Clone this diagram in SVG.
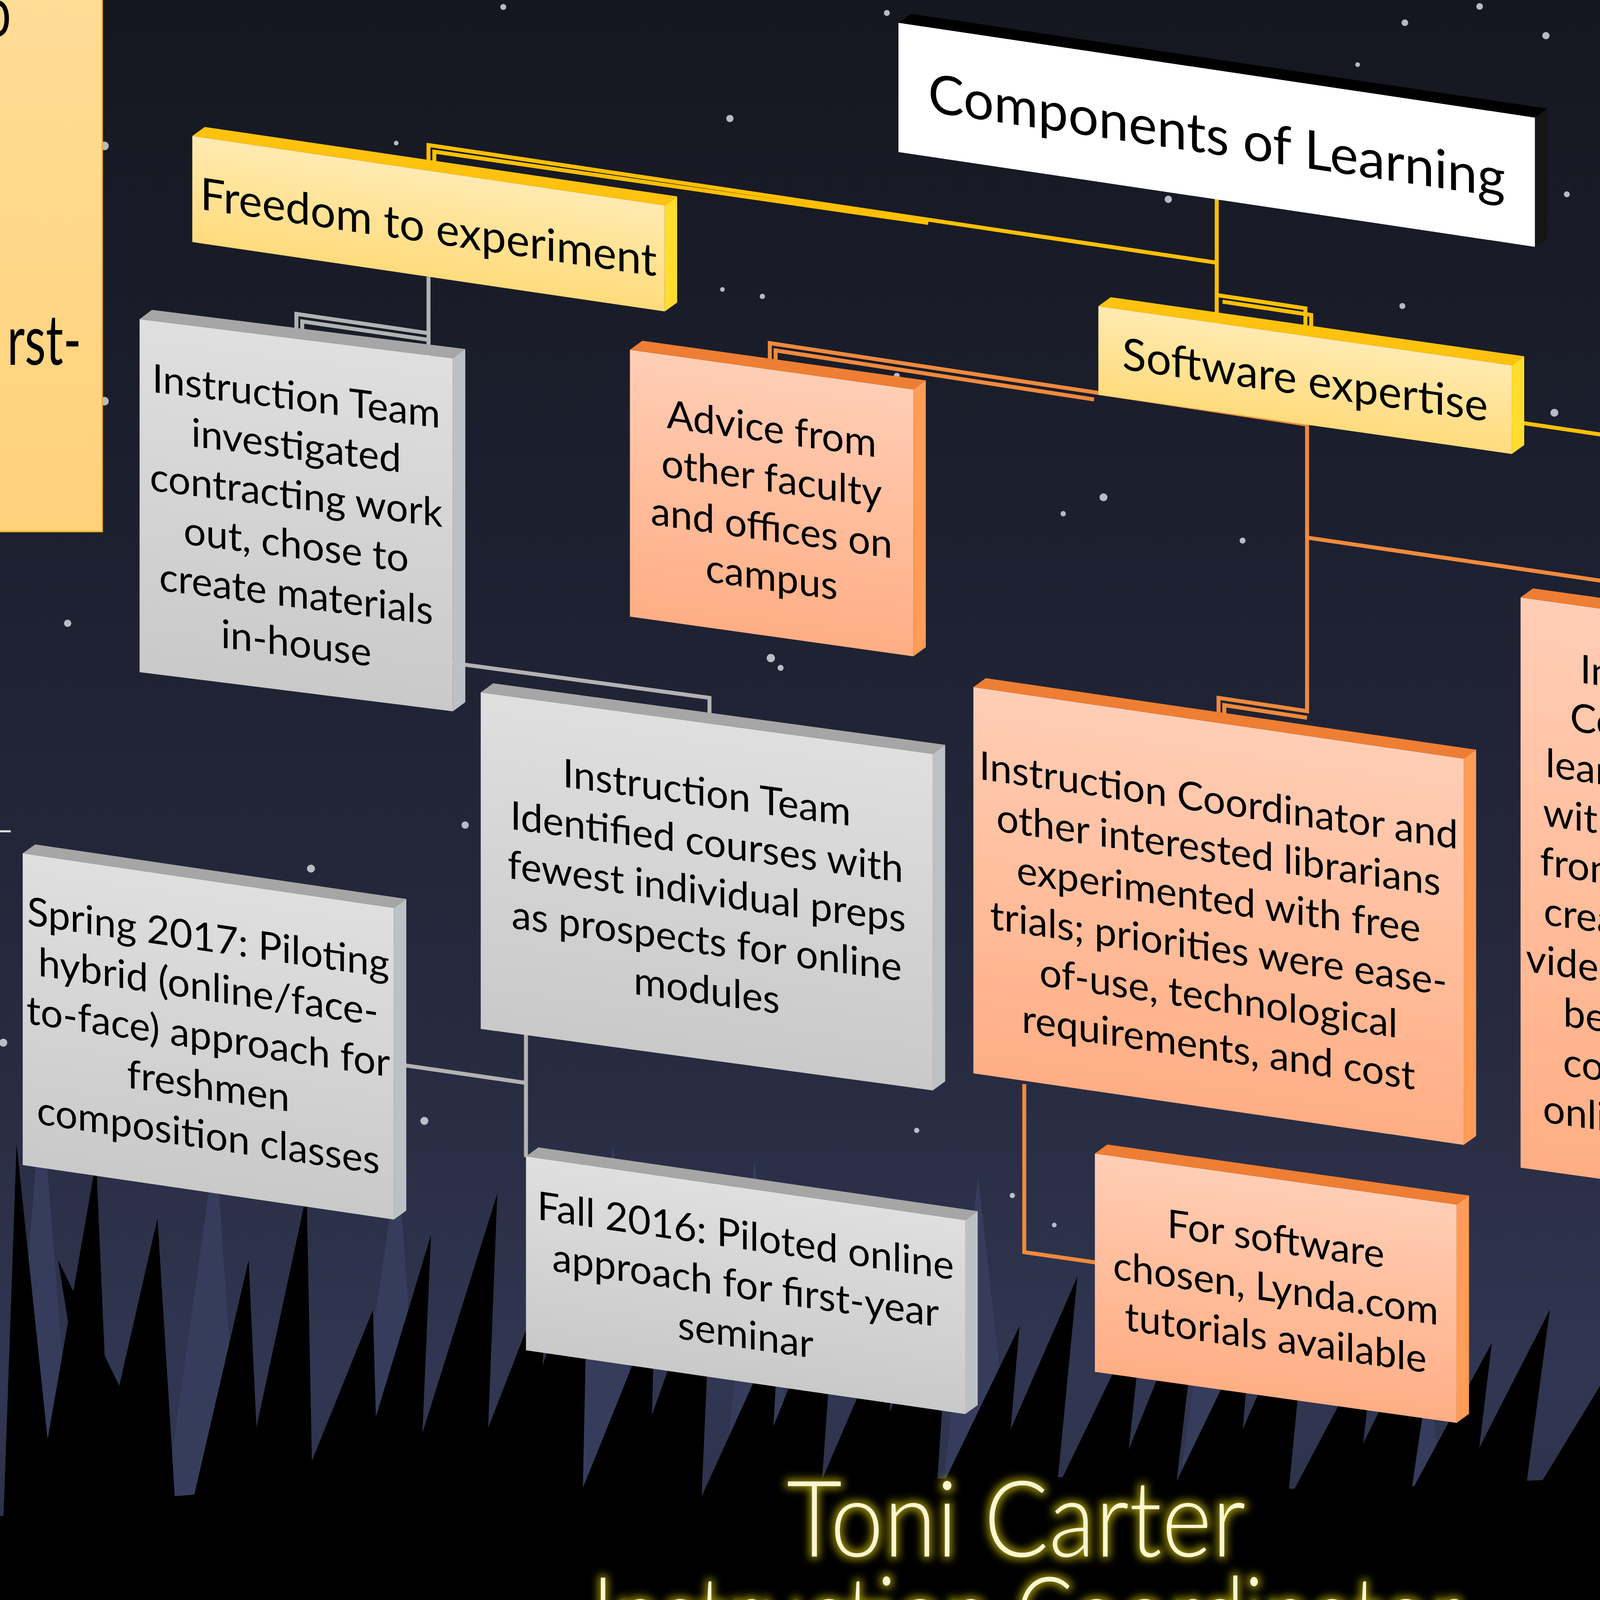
<svg xmlns="http://www.w3.org/2000/svg" width="6654" height="4133" viewBox="0 0 6654 4133">
<defs>
<style>
.t{font-family:Lato,"Liberation Sans","DejaVu Sans",sans-serif;fill:#000;text-anchor:middle}
.b{font-size:23.8px}
.h{font-size:26.8px}
.c{font-size:32.4px}
.gt{font-family:Lato,"Liberation Sans",sans-serif;font-size:31.2px;fill:#00CC5A}
.tt{font-family:Lato,"Liberation Sans",sans-serif;font-weight:300;font-size:64px;fill:#FFF6D0;text-anchor:middle}
.cn{fill:none;stroke-width:2.4}
.cy{stroke:#FFC000}
.cg{stroke:#B3B3B3}
.co{stroke:#F08A3C}
.cgr{stroke:#72B04A}
.fy{fill:url(#gy)}.ty{fill:#FFC20E}.ry{fill:#FFDD2E}
.fo{fill:url(#go)}.to{fill:#EE7E33}.ro{fill:#FF9C57}
.fg{fill:url(#gg)}.tg{fill:#A6A6A6}.rg{fill:#BCC1C6}
.fn{fill:url(#gn)}.tn{fill:#70AD47}.rn{fill:#8CCB63}
.st{fill:#d4d7e2;opacity:.85}
.gr{fill:#000}
.gb{fill:#363d5c}
</style>
<linearGradient id="bg" x1="0" y1="0" x2="0" y2="1">
<stop offset="0" stop-color="#15171f"/><stop offset="0.35" stop-color="#1d2030"/><stop offset="0.65" stop-color="#272b40"/><stop offset="0.85" stop-color="#313652"/><stop offset="1" stop-color="#2a2f47"/>
</linearGradient>
<linearGradient id="gy" x1="0" y1="0" x2="0" y2="1"><stop offset="0" stop-color="#FFEAB0"/><stop offset="1" stop-color="#FFDB7C"/></linearGradient>
<linearGradient id="go" x1="0" y1="0" x2="0" y2="1"><stop offset="0" stop-color="#FFCDB5"/><stop offset="1" stop-color="#FFAE84"/></linearGradient>
<linearGradient id="gg" x1="0" y1="0" x2="0" y2="1"><stop offset="0" stop-color="#DFDFDF"/><stop offset="1" stop-color="#C9C9C9"/></linearGradient>
<linearGradient id="gn" x1="0" y1="0" x2="0" y2="1"><stop offset="0" stop-color="#C4E3B6"/><stop offset="1" stop-color="#A6D48B"/></linearGradient>
<linearGradient id="gp" x1="0" y1="0" x2="0" y2="1"><stop offset="0" stop-color="#FFDC96"/><stop offset="1" stop-color="#FFD27A"/></linearGradient>
<filter id="glow" x="-20%" y="-60%" width="140%" height="220%">
<feMorphology in="SourceAlpha" operator="dilate" radius="1.5" result="d"/>
<feGaussianBlur in="d" stdDeviation="2.5" result="b"/>
<feFlood flood-color="#b3a600" flood-opacity="0.85"/>
<feComposite in2="b" operator="in" result="g"/>
<feMerge><feMergeNode in="g"/><feMergeNode in="SourceGraphic"/></feMerge>
</filter>
</defs>
<g transform="scale(4.2436)">
<rect x="-2" y="-2" width="1574" height="980" fill="url(#bg)"/>
<g id="stars">
<circle class="st" cx="535" cy="7.8" r="1.8"/><circle class="st" cx="892.6" cy="3.9" r="2"/><circle class="st" cx="847.5" cy="13.7" r="2"/><circle class="st" cx="932.6" cy="21.5" r="2.2"/><circle class="st" cx="819" cy="39" r="1.4"/><circle class="st" cx="704.8" cy="120.2" r="2.2"/><circle class="st" cx="945.2" cy="117.2" r="1.8"/><circle class="st" cx="846" cy="184.6" r="1.8"/><circle class="st" cx="937.7" cy="249" r="2.4"/><circle class="st" cx="987.3" cy="260.8" r="1.6"/><circle class="st" cx="665.7" cy="300" r="2.4"/><circle class="st" cx="541" cy="226.7" r="1.8"/><circle class="st" cx="1011.3" cy="273.2" r="1.6"/><circle class="st" cx="1052.1" cy="289.1" r="1.6"/><circle class="st" cx="1122.9" cy="312.2" r="1.8"/><circle class="st" cx="1173.5" cy="320.7" r="2.2"/><circle class="st" cx="1461.8" cy="313.8" r="2.2"/><circle class="st" cx="1290" cy="446" r="2.2"/><circle class="st" cx="1193.7" cy="495.6" r="1.6"/><circle class="st" cx="1410.3" cy="638.4" r="2"/><circle class="st" cx="1191.5" cy="650.4" r="1.8"/><circle class="st" cx="1207.7" cy="768.2" r="2"/><circle class="st" cx="1112.2" cy="736.3" r="2"/><circle class="st" cx="1102.5" cy="785.4" r="2"/><circle class="st" cx="280.6" cy="497.7" r="2.2"/><circle class="st" cx="187.6" cy="524" r="2.4"/><circle class="st" cx="2" cy="629" r="2.4"/><circle class="st" cx="256" cy="676.2" r="2.4"/><circle class="st" cx="470.9" cy="402.9" r="1.8"/><circle class="st" cx="553" cy="681.9" r="1.6"/><circle class="st" cx="440.3" cy="71.5" r="2.2"/><circle class="st" cx="239" cy="86.3" r="1.4"/><circle class="st" cx="459.9" cy="178.8" r="1.6"/><circle class="st" cx="435.8" cy="174.6" r="1.4"/><circle class="st" cx="303.6" cy="4.2" r="1.8"/><circle class="st" cx="63" cy="88" r="2.6"/><circle class="st" cx="63" cy="242" r="2.6"/><circle class="st" cx="40.8" cy="376" r="2.2"/><circle class="st" cx="641.4" cy="309.9" r="1.6"/><circle class="st" cx="749.6" cy="326.1" r="1.8"/><circle class="st" cx="1123" cy="311.7" r="1.8"/><circle class="st" cx="610.7" cy="721.2" r="1.6"/><circle class="st" cx="636" cy="739" r="1.4"/><circle class="st" cx="1007.5" cy="751.8" r="2"/><circle class="st" cx="1036.4" cy="795.1" r="1.6"/><circle class="st" cx="1169.6" cy="8.7" r="2"/><circle class="st" cx="1174.8" cy="101.9" r="2.2"/><circle class="st" cx="1421.7" cy="68.5" r="2.2"/><circle class="st" cx="1512" cy="64.4" r="2.2"/><circle class="st" cx="1563" cy="83" r="2"/><circle class="st" cx="1347" cy="203.8" r="1.6"/><circle class="st" cx="1383" cy="240.8" r="1.6"/><circle class="st" cx="1554.6" cy="226.3" r="1.6"/><circle class="st" cx="465" cy="397" r="2.5"/>
</g>
<g id="grass">
<polygon class="gb" points="0,976 25,660 50,976"/><polygon class="gb" points="90,976 130,690 150,976"/><polygon class="gb" points="200,976 240,700 260,976"/><polygon class="gb" points="330,976 370,690 390,976"/><polygon class="gb" points="430,976 455,700 490,976"/><polygon class="gb" points="560,976 590,710 620,976"/><polygon class="gb" points="700,976 735,730 760,976"/><polygon class="gb" points="820,976 850,740 880,976"/><polygon class="gb" points="960,976 990,750 1020,976"/><polygon class="gb" points="1080,976 1110,770 1140,976"/><polygon class="gb" points="1200,976 1235,790 1260,976"/><polygon class="gb" points="1320,976 1350,800 1380,976"/><polygon class="gb" points="1440,976 1470,810 1500,976"/><polygon class="gb" points="1520,976 1550,820 1570,976"/>
<polygon class="gr" points="0,976 10,690 40,976"/><polygon class="gr" points="10,976 58,700 70,976"/><polygon class="gr" points="40,976 95,735 110,976"/><polygon class="gr" points="70,976 35,760 140,976"/><polygon class="gr" points="100,976 150,760 160,976"/><polygon class="gr" points="130,976 185,720 190,976"/><polygon class="gr" points="150,976 225,790 230,976"/><polygon class="gr" points="190,976 260,745 250,976"/><polygon class="gr" points="220,976 300,720 290,976"/><polygon class="gr" points="250,976 330,770 320,976"/><polygon class="gr" points="280,976 355,735 350,976"/><polygon class="gr" points="320,976 395,790 390,976"/><polygon class="gr" points="350,976 430,750 420,976"/><polygon class="gr" points="390,976 470,800 460,976"/><polygon class="gr" points="420,976 505,765 490,976"/><polygon class="gr" points="460,976 540,790 530,976"/><polygon class="gr" points="490,976 575,750 560,976"/><polygon class="gr" points="530,976 615,800 600,976"/><polygon class="gr" points="560,976 650,770 630,976"/><polygon class="gr" points="600,976 690,790 670,976"/><polygon class="gr" points="640,976 725,765 700,976"/><polygon class="gr" points="670,976 755,800 740,976"/><polygon class="gr" points="700,976 790,770 770,976"/><polygon class="gr" points="740,976 830,805 810,976"/><polygon class="gr" points="770,976 870,775 840,976"/><polygon class="gr" points="810,976 900,810 880,976"/><polygon class="gr" points="840,976 935,790 910,976"/><polygon class="gr" points="880,976 975,820 950,976"/><polygon class="gr" points="910,976 1010,790 980,976"/><polygon class="gr" points="950,976 1050,825 1020,976"/><polygon class="gr" points="990,976 1085,800 1060,976"/><polygon class="gr" points="1020,976 1120,835 1090,976"/><polygon class="gr" points="1060,976 1160,810 1130,976"/><polygon class="gr" points="1090,976 1195,845 1160,976"/><polygon class="gr" points="1130,976 1230,820 1200,976"/><polygon class="gr" points="1160,976 1265,850 1230,976"/><polygon class="gr" points="1200,976 1300,830 1270,976"/><polygon class="gr" points="1230,976 1340,860 1300,976"/><polygon class="gr" points="1270,976 1375,835 1340,976"/><polygon class="gr" points="1300,976 1410,865 1370,976"/><polygon class="gr" points="1340,976 1440,840 1410,976"/><polygon class="gr" points="1370,976 1480,870 1440,976"/><polygon class="gr" points="1410,976 1515,850 1480,976"/><polygon class="gr" points="1440,976 1545,875 1510,976"/><polygon class="gr" points="1480,976 1570,855 1570,976"/>
<path class="gr" d="M-2,976 L-2,915 Q200,885 400,905 Q600,880 800,900 Q1000,885 1200,895 Q1400,880 1572,890 L1572,976 Z"/>
</g>
<g id="n-left-panel">
<rect x="-10" y="-10" width="71.7" height="330.7" fill="url(#gp)" stroke="#F0B020" stroke-width="0.8"/>
<text class="t" style="text-anchor:start;font-size:42px" transform="translate(-10,22) scale(0.7,1)">o</text>
<text class="t" style="text-anchor:start;font-size:42px" transform="translate(4.3,220) scale(0.7,1)">rst-</text>
</g>
<line x1="-1" y1="501.5" x2="6.5" y2="501.5" stroke="#e0e0e0" stroke-width="1.2"/>
<g id="notes">
<text class="gt" x="1211.9" y="7.2">towards first-year studen</text>
<text class="gt" x="1211.9" y="47.2">primary responsibility of t</text>
<text class="gt" x="1211.9" y="87.8">Instruction Team</text>
<polygon fill="#FFD37F" points="1181.8,128 1186.67,147.97 1202.4,147.97 1189.68,160.31 1194.54,180.28 1181.8,167.94 1169.06,180.28 1173.92,160.31 1161.2,147.97 1176.93,147.97"/>
<text class="gt" x="1211.9" y="169.5">Recent development of a 3</text>
<text class="gt" x="1211.9" y="210.1">professional development</text>
<text class="gt" x="1211.9" y="250.7">instruction program</text>
</g>
<g id="connectors">
<path class="cn cy" d="M734,120 V158.5 L258.5,87.5 V100"/>
<path class="cn cy" d="M560,134.5 L262,91.5 V100"/>
<path class="cn cy" d="M734,158 V178 L787.5,186 V197"/>
<path class="cn cy" d="M737.5,182 L791,190 V197"/>
<path class="cn cy" d="M734,178 V228 L1367.4,321.3 V332"/>
<path class="cn cg" d="M258.5,167 V398 L428,421 V433"/>
<path class="cn cg" d="M258.5,201 L178.8,189.4 V204"/>
<path class="cn cg" d="M258.5,205 L182.3,193.9 V204"/>
<path class="cn cg" d="M317.3,624 V698"/>
<path class="cn cg" d="M317.3,653.3 L241,642.2"/>
<path class="cn co" d="M788,256 L464.4,207 V217"/>
<path class="cn co" d="M660,241 L467.9,211.4 V217"/>
<path class="cn co" d="M788.5,256 V429 L735.1,421 V431"/>
<path class="cn co" d="M788.5,433 L738.6,425.4 V431"/>
<path class="cn co" d="M788.5,324.3 L1010,356.8 V368"/>
<path class="cn co" d="M617.9,654 V755.4 L661,761.6"/>
<path class="cn cgr" d="M1234.4,380 V509.1 L1292,516.6"/>
<path class="cn cgr" d="M1234.4,380 L1201.5,622"/>
<path class="cn cgr" d="M1234.4,380 L1120.3,811"/>
</g>
<g id="n-components" transform="matrix(1,0.149,0,1,542,13.7)">
<rect width="384" height="78" fill="#fff"/>
<polygon fill="#000" points="0,0 384,0 391.5,-6.5 7.5,-6.5"/>
<polygon fill="#151515" points="384,0 391.5,-6.5 391.5,71.5 384,78"/>
<text class="t c" x="192" y="51">Components of Learning</text>
</g>
<g id="n-freedom" transform="matrix(1,0.147,0,1,116,82)">
<rect class="fy" width="285" height="64"/>
<polygon class="ty" points="0,0 285,0 292.5,-6.5 7.5,-6.5"/>
<polygon class="ry" points="285,0 292.5,-6.5 292.5,57.5 285,64"/>
<text class="t h" x="142.5" y="43.5">Freedom to experiment</text>
</g>
<g id="n-software" transform="matrix(1,0.143,0,1,662.6,184.7)">
<rect class="fy" width="249.4" height="53.5"/>
<polygon class="ty" points="0,0 249.4,0 256.9,-6.5 7.5,-6.5"/>
<polygon class="ry" points="249.4,0 256.9,-6.5 256.9,47 249.4,53.5"/>
<text class="t h" x="124.7" y="36">Software expertise</text>
</g>
<g id="n-design" transform="matrix(1,0.147,0,1,1201.4,313.1)">
<rect class="fy" width="331.2" height="62"/>
<polygon class="ty" points="0,0 331.2,0 338.7,-6.5 7.5,-6.5"/>
<polygon class="ry" points="331.2,0 338.7,-6.5 338.7,55.5 331.2,62"/>
<text class="t h" x="165.6" y="24">Instructional design</text>
<text class="t h" x="165.6" y="59">training</text>
</g>
<g id="n-advice" transform="matrix(1,0.14,0,1,380,211)">
<rect class="fo" width="171" height="161"/>
<polygon class="to" points="0,0 171,0 178.5,-6.5 7.5,-6.5"/>
<polygon class="ro" points="171,0 178.5,-6.5 178.5,154.5 171,161"/>
<text class="t b" x="85.5" y="44"><tspan x="85.5">Advice from</tspan><tspan x="85.5" dy="29.8">other faculty</tspan><tspan x="85.5" dy="29.8">and offices on</tspan><tspan x="85.5" dy="29.8">campus</tspan></text>
</g>
<g id="n-investigated" transform="matrix(1,0.125,0,1,84.2,192.5)">
<rect class="fg" width="189" height="213"/>
<polygon class="tg" points="0,0 189,0 196.5,-6.5 7.5,-6.5"/>
<polygon class="rg" points="189,0 196.5,-6.5 196.5,206.5 189,213"/>
<text class="t b" y="43"><tspan x="94.5">Instruction Team</tspan><tspan x="94.5" dy="29.8">investigated</tspan><tspan x="94.5" dy="29.8">contracting work</tspan><tspan x="94.5" dy="29.8">out, chose to</tspan><tspan x="94.5" dy="29.8">create materials</tspan><tspan x="94.5" dy="29.8">in-house</tspan></text>
</g>
<g id="n-identified" transform="matrix(1,0.136,0,1,290,417.7)">
<rect class="fg" width="272.7" height="203"/>
<polygon class="tg" points="0,0 272.7,0 280.2,-6.5 7.5,-6.5"/>
<polygon class="rg" points="272.7,0 280.2,-6.5 280.2,196.5 272.7,203"/>
<text class="t b" y="50.2"><tspan x="136.35">Instruction Team</tspan><tspan x="136.35" dy="29.8">Identified courses with</tspan><tspan x="136.35" dy="29.8">fewest individual preps</tspan><tspan x="136.35" dy="29.8">as prospects for online</tspan><tspan x="136.35" dy="29.8">modules</tspan></text>
</g>
<g id="n-spring" transform="matrix(1,0.147,0,1,13.7,514.8)">
<rect class="fg" width="223.9" height="188"/>
<polygon class="tg" points="0,0 223.9,0 231.4,-6.5 7.5,-6.5"/>
<polygon class="rg" points="223.9,0 231.4,-6.5 231.4,181.5 223.9,188"/>
<text class="t b" y="42.7"><tspan x="111.95">Spring 2017: Piloting</tspan><tspan x="111.95" dy="29.8">hybrid (online/face-</tspan><tspan x="111.95" dy="29.8">to-face) approach for</tspan><tspan x="111.95" dy="29.8">freshmen</tspan><tspan x="111.95" dy="29.8">composition classes</tspan></text>
</g>
<g id="n-fall" transform="matrix(1,0.145,0,1,317.3,697.6)">
<rect class="fg" width="265" height="117"/>
<polygon class="tg" points="0,0 265,0 272.5,-6.5 7.5,-6.5"/>
<polygon class="rg" points="265,0 272.5,-6.5 272.5,110.5 265,117"/>
<text class="t b" y="37"><tspan x="132.5">Fall 2016: Piloted online</tspan><tspan x="132.5" dy="29.8">approach for first-year</tspan><tspan x="132.5" dy="29.8">seminar</tspan></text>
</g>
<g id="n-experimented" transform="matrix(1,0.146,0,1,587.2,414.5)">
<rect class="fo" width="295.8" height="233"/>
<polygon class="to" points="0,0 295.8,0 303.3,-6.5 7.5,-6.5"/>
<polygon class="ro" points="295.8,0 303.3,-6.5 303.3,226.5 295.8,233"/>
<text class="t b" y="55"><tspan x="147.9">Instruction Coordinator and</tspan><tspan x="147.9" dy="29.8">other interested librarians</tspan><tspan x="147.9" dy="29.8">experimented with free</tspan><tspan x="147.9" dy="29.8">trials; priorities were ease-</tspan><tspan x="147.9" dy="29.8">of-use, technological</tspan><tspan x="147.9" dy="29.8">requirements, and cost</tspan></text>
</g>
<g id="n-imovie" transform="matrix(1,0.14,0,1,917.3,360.4)">
<rect class="fo" width="185.1" height="344"/>
<polygon class="to" points="0,0 185.1,0 192.6,-6.5 7.5,-6.5"/>
<polygon class="ro" points="185.1,0 192.6,-6.5 192.6,337.5 185.1,344"/>
<text class="t b" y="46.4"><tspan x="92.55">Instruction</tspan><tspan x="92.55" dy="29.8">Coordinator</tspan><tspan x="92.55" dy="29.8">learned iMovie</tspan><tspan x="92.55" dy="29.8">with assistance</tspan><tspan x="92.55" dy="29.8">from media lab;</tspan><tspan x="92.55" dy="29.8">created several</tspan><tspan x="92.55" dy="29.8">videos that could</tspan><tspan x="92.55" dy="29.8">be reused by</tspan><tspan x="92.55" dy="29.8">colleagues in</tspan><tspan x="92.55" dy="29.8">online modules</tspan></text>
</g>
<g id="n-lynda" transform="matrix(1,0.141,0,1,660.5,695.9)">
<rect class="fo" width="218.2" height="131.7"/>
<polygon class="to" points="0,0 218.2,0 225.7,-6.5 7.5,-6.5"/>
<polygon class="ro" points="218.2,0 225.7,-6.5 225.7,125.2 218.2,131.7"/>
<text class="t b" y="44.4"><tspan x="109.1">For software</tspan><tspan x="109.1" dy="29.8">chosen, Lynda.com</tspan><tspan x="109.1" dy="29.8">tutorials available</tspan></text>
</g>
<g id="n-immersion" transform="matrix(1,0.14,0,1,1291.5,429.5)">
<rect class="fn" width="256.9" height="178.5"/>
<polygon class="tn" points="0,0 256.9,0 264.4,-6.5 7.5,-6.5"/>
<polygon class="rn" points="256.9,0 264.4,-6.5 264.4,172 256.9,178.5"/>
<text class="t b" y="41"><tspan x="128.45">Education librarian</tspan><tspan x="128.45" dy="29.8">attending Immersion</tspan><tspan x="128.45" dy="29.8">Teaching with</tspan><tspan x="128.45" dy="29.8">Technology Track in</tspan><tspan x="128.45" dy="29.8">Spring 2017</tspan></text>
</g>
<g id="n-design4learning" transform="matrix(1,0.14,0,1,1191.5,625.9)">
<rect class="fn" width="377" height="124"/>
<polygon class="tn" points="0,0 377,0 384.5,-6.5 7.5,-6.5"/>
<polygon class="rn" points="377,0 384.5,-6.5 384.5,117.5 377,124"/>
<text class="t b" y="40.5"><tspan x="188.5">Instruction Coordinator took part in</tspan><tspan x="188.5" dy="29.8">Design4Learning/</tspan><tspan x="188.5" dy="29.8">Library Juice Academy</tspan></text>
</g>
<g id="n-libguide" transform="matrix(1,0.145,0,1,1103.5,814.9)">
<rect class="fn" width="262.8" height="121.5"/>
<polygon class="tn" points="0,0 262.8,0 270.3,-6.5 7.5,-6.5"/>
<polygon class="rn" points="262.8,0 270.3,-6.5 270.3,115 262.8,121.5"/>
<text class="t b" y="41"><tspan x="131.4">Instruction Team</tspan><tspan x="131.4" dy="29.8">member created best</tspan><tspan x="131.4" dy="29.8">practices LibGuide</tspan></text>
</g>
<g id="title" filter="url(#glow)">
<text class="tt" x="613" y="939" textLength="277" lengthAdjust="spacingAndGlyphs">Toni Carter</text>
<text class="tt" x="619" y="997" textLength="524" lengthAdjust="spacingAndGlyphs">Instruction Coordinator</text>
</g>
</g>
</svg>
